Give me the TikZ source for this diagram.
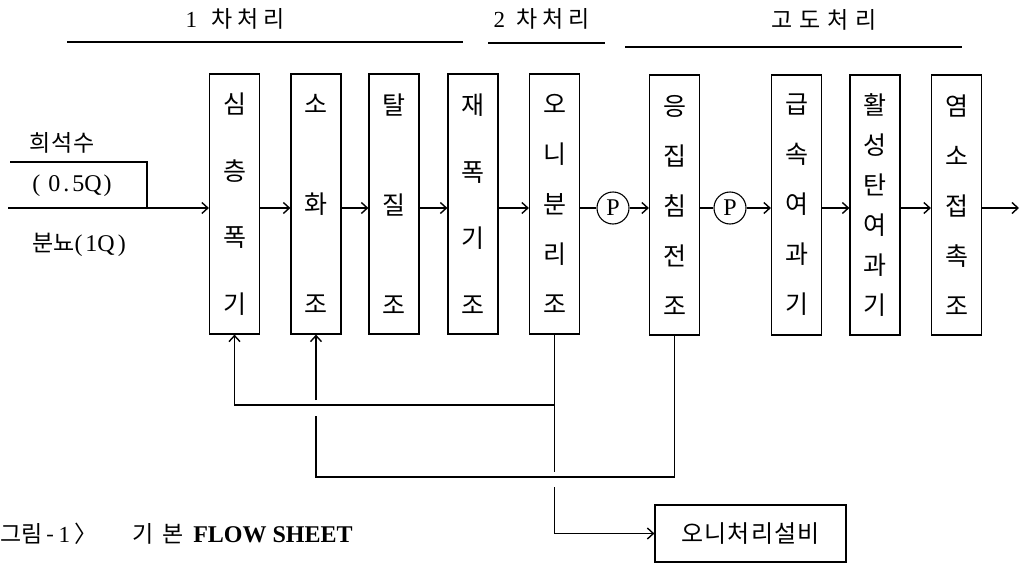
\documentclass[tikz,border=0pt]{standalone}
\usepackage{fontspec}
\setmainfont{Liberation Serif}
\newfontfamily\kr{Noto Sans CJK KR}
\usetikzlibrary{arrows.meta}
\begin{document}
\begin{tikzpicture}[x=1pt,y=-1pt,
  unit/.style={draw, line width=1.2pt, minimum width=50pt, minimum height=260pt, inner sep=0pt, align=center},
  kthree/.style={font=\kr\fontsize{25}{100}\selectfont},
  kfour/.style={font=\kr\fontsize{25}{66.67}\selectfont},
  kfive/.style={font=\kr\fontsize{25}{50}\selectfont},
  ksix/.style={font=\kr\fontsize{25}{40}\selectfont},
  flow/.style={line width=1.2pt},
  arr/.style={flow, -{Straight Barb[length=6pt,width=11pt,line width=1.4pt]}},
  pump/.style={draw, circle, line width=1.1pt, minimum size=32pt, inner sep=0pt, font=\fontsize{24}{24}\selectfont},
  hdr/.style={font=\kr\fontsize{23}{26}\selectfont, inner sep=0pt},
  lbl/.style={font=\kr\fontsize{23}{26}\selectfont, inner sep=0pt},
]
\useasboundingbox (0,0) rectangle (1021,565);

% headers
\node[hdr] (h1) at (235,19) {{\rmfamily 1}\hspace{14pt}차\hspace{5pt}처\hspace{5pt}리};
\node[hdr] (h2) at (541.5,19) {{\rmfamily 2}\hspace{11pt}차\hspace{5pt}처\hspace{5pt}리};
\node[hdr] (h3) at (824,20) {고\hspace{7pt}도\hspace{7pt}처\hspace{6pt}리};
\draw[flow] (67,42) -- (463,42);
\draw[flow] (488,43) -- (605,43);
\draw[flow] (625,47) -- (962,47);

% units
\node[unit,kfour]  (b1) at (234.5,204) {심\\층\\폭\\기};
\node[unit,kthree] (b2) at (316,204)   {소\\화\\조};
\node[unit,kthree] (b3) at (394,204)   {탈\\질\\조};
\node[unit,kfour]  (b4) at (473,204)   {재\\폭\\기\\조};
\node[unit,kfive]  (b5) at (554.5,204) {오\\니\\분\\리\\조};
\node[unit,kfive]  (b6) at (674.5,205) {응\\집\\침\\전\\조};
\node[unit,kfive]  (b7) at (796.5,205) {급\\속\\여\\과\\기};
\node[unit,ksix]   (b8) at (875,205)   {활\\성\\탄\\여\\과\\기};
\node[unit,kfive]  (b9) at (956.5,205) {염\\소\\접\\촉\\조};

\node[pump] (p1) at (613,208) {P};
\node[pump] (p2) at (730,208) {P};

\node[draw, line width=1.2pt, minimum width=191pt, minimum height=57pt,
      font=\kr\fontsize{24}{26}\selectfont] (sl) at (750.5,533.5) {오\hspace{1pt}니\hspace{1pt}처\hspace{1pt}리\hspace{1pt}설\hspace{1pt}비};

% inlet labels
\node[lbl] (dil) at (62,143) {희\hspace{1pt}석\hspace{1pt}수};
\node[lbl, font=\fontsize{24}{26}\selectfont] (dq) at (72,186) {(\hspace{8pt}0\hspace{3pt}.\hspace{3pt}5Q\hspace{2pt})};
\node[lbl] (raw) at (79,245) {분뇨{\rmfamily\fontsize{24}{26}\selectfont(\hspace{3pt}1Q\hspace{3pt})}};

% caption
\node[anchor=west, inner sep=0pt, font=\kr\fontsize{23}{26}\selectfont] (cap) at (0,534)
  {그림\hspace{4pt}-\hspace{4pt}{\rmfamily 1}\hspace{4pt}〉\hspace{36pt}기\hspace{8pt}본\hspace{10pt}{\rmfamily\bfseries\fontsize{24}{26}\selectfont FLOW SHEET}};

% coordinates
\coordinate (m) at (0,208);
\coordinate (in) at (8,208);
\coordinate (dj) at (10,162);
\coordinate (dk) at (147,162);
\coordinate (out) at (1019,208);
\coordinate (r1) at (0,405);
\coordinate (r2) at (0,477);
\coordinate (gA) at (0,472);
\coordinate (gB) at (0,487);
\coordinate (gC) at (0,416);
\coordinate (gD) at (0,400);

% main flow
\draw[arr] (in) -- (b1.west |- m);
\draw[flow] (dj) -- (dk) -- (dk |- m);
\draw[arr] (b1.east |- m) -- (b2.west |- m);
\draw[arr] (b2.east |- m) -- (b3.west |- m);
\draw[arr] (b3.east |- m) -- (b4.west |- m);
\draw[arr] (b4.east |- m) -- (b5.west |- m);
\draw[flow] (b5.east |- m) -- (p1);
\draw[arr] (p1) -- (b6.west |- m);
\draw[flow] (b6.east |- m) -- (p2);
\draw[arr] (p2) -- (b7.west |- m);
\draw[arr] (b7.east |- m) -- (b8.west |- m);
\draw[arr] (b8.east |- m) -- (b9.west |- m);
\draw[arr] (b9.east |- m) -- (out);

% return lines
\draw[flow] (b5.south) -- (b5.south |- gA);
\draw[arr] (b5.south |- r1) -| (b1.south);
\draw[arr] (b5.south |- gB) |- (sl.west);
\draw[flow] (b6.south) |- (b2.south |- r2) -- (b2.south |- gC);
\draw[arr] (b2.south |- gD) -- (b2.south);
\end{tikzpicture}
\end{document}
